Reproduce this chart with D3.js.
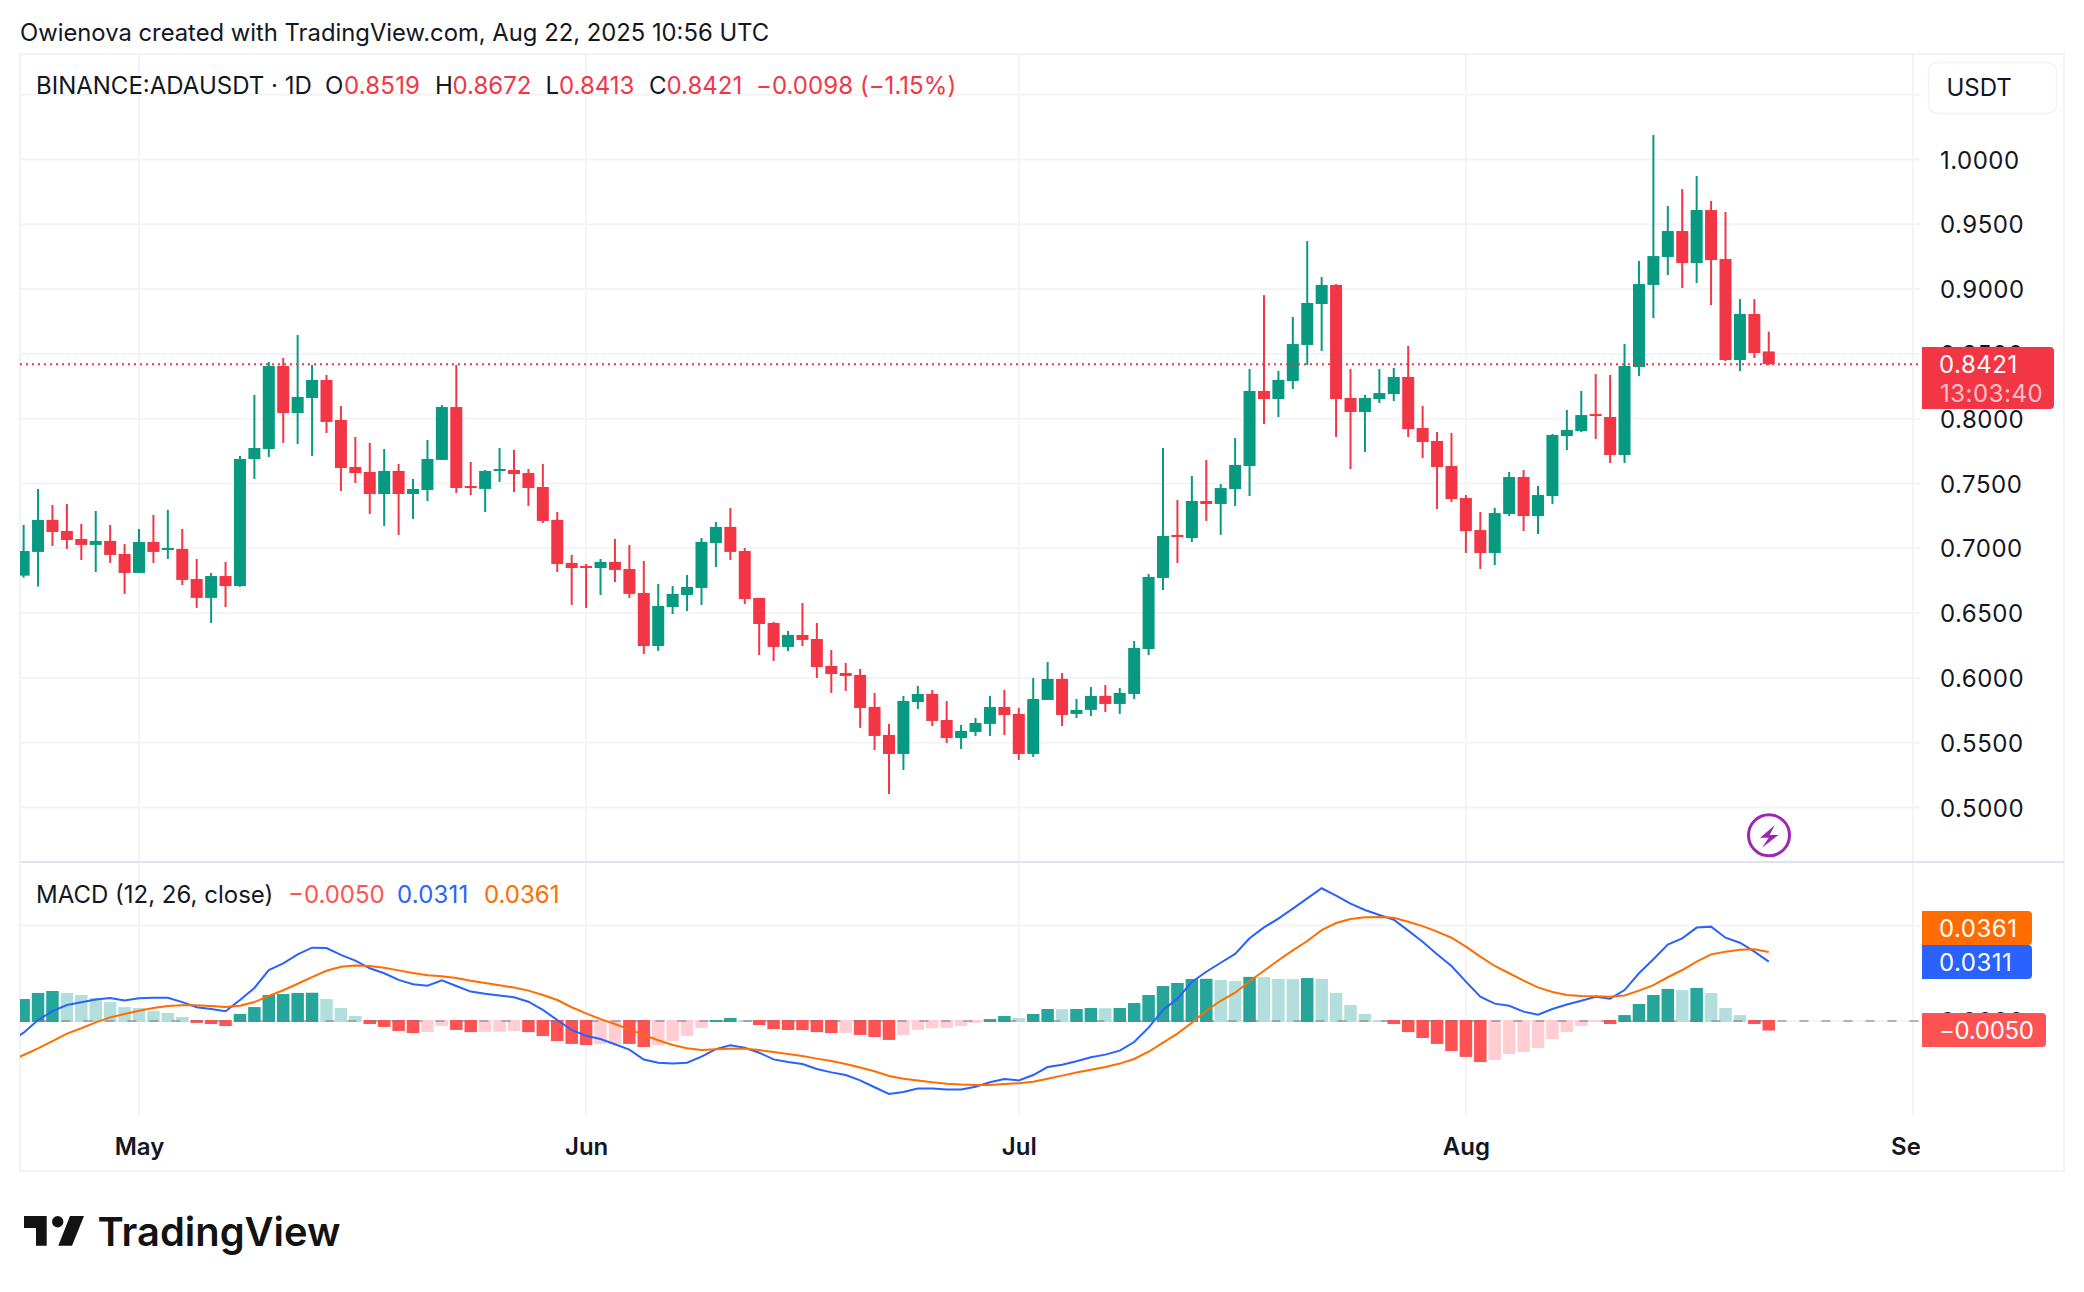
<!DOCTYPE html>
<html><head><meta charset="utf-8">
<script src="https://cdn.jsdelivr.net/npm/d3@7/dist/d3.min.js"></script>
<style>
html,body{margin:0;padding:0;background:#fff;overflow:hidden}
svg{display:block}
text{font-family:Inter,"Liberation Sans",sans-serif;fill:#131722}
</style></head><body>
<script>
const firstDay = "2025-04-22";
const opens = [.6650,.6789,.6972,.7219,.7134,.7072,.7026,.7057,.6956,
.6810,.7049,.6987,.6995,.6763,.6617,.6786,.6709,.7689,.7766,
.8407,.8044,.8160,.8299,.7990,.7628,.7589,.7419,.7597,.7419,
.7450,.7682,.8090,.7481,.7458,.7597,.7604,.7581,.7473,.7219,
.6887,.6864,.6848,.6895,.6840,.6655,.6246,.6547,.6640,.6694,
.7041,.7165,.6979,.6617,.6424,.6239,.6331,.6300,.6092,.6038,
.6023,.5776,.5560,.5413,.5814,.5876,.5675,.5536,.5583,.5645,
.5776,.5722,.5413,.5830,.5992,.5722,.5753,.5861,.5799,.5876,
.6223,.6771,.7103,.7079,.7365,.7342,.7457,.7635,.8214,.8152,
.8291,.8569,.8885,.9032,.8160,.8052,.8152,.8190,.8322,.7928,
.7828,.7635,.7388,.7141,.6964,.7265,.7550,.7249,.7403,.7866,
.7905,.8036,.8013,.7720,.8399,.9032,.9248,.9448,.9201,.9610,
.9232,.8453,.8808,.8519];
const highs = [.6880,.7180,.7458,.7334,.7342,.7188,.7288,.7180,.7033,
.7149,.7257,.7296,.7149,.6918,.6810,.6895,.7712,.8183,.8438,
.8469,.8646,.8415,.8337,.8098,.7859,.7813,.7766,.7651,.7535,
.7836,.8106,.8415,.7666,.7604,.7774,.7759,.7612,.7651,.7280,
.6949,.6879,.6918,.7072,.7026,.6902,.6725,.6709,.6794,.7080,
.7203,.7311,.7003,.6617,.6432,.6362,.6578,.6424,.6215,.6115,
.6069,.5884,.5645,.5861,.5938,.5907,.5822,.5637,.5691,.5861,
.5907,.5768,.5999,.6123,.6038,.5837,.5930,.5945,.5922,.6285,
.6802,.7774,.7373,.7558,.7681,.7496,.7851,.8383,.8954,.8368,
.8785,.9371,.9093,.9039,.8383,.8183,.8383,.8391,.8561,.8098,
.7897,.7890,.7411,.7280,.7311,.7589,.7604,.7481,.7882,.8067,
.8214,.8345,.8337,.8576,.9217,1.0189,.9641,.9772,.9873,.9680,
.9595,.8923,.8923,.8672];
const lows = [.6620,.6773,.6704,.7018,.6995,.6910,.6817,.6887,.6648,
.6810,.6887,.6918,.6717,.6540,.6424,.6547,.6702,.7535,.7705,
.7813,.7805,.7712,.7890,.7442,.7504,.7265,.7172,.7103,.7226,
.7365,.7682,.7427,.7411,.7280,.7512,.7435,.7327,.7195,.6817,
.6563,.6540,.6640,.6740,.6617,.6185,.6208,.6493,.6516,.6563,
.6856,.6910,.6570,.6177,.6131,.6208,.6246,.5999,.5884,.5899,
.5614,.5444,.5104,.5290,.5760,.5629,.5498,.5452,.5552,.5552,
.5560,.5367,.5390,.5830,.5629,.5691,.5706,.5737,.5722,.5837,
.6177,.6678,.6887,.7049,.7211,.7103,.7326,.7403,.7959,.8013,
.8229,.8414,.8522,.7859,.7612,.7743,.8121,.8136,.7859,.7697,
.7303,.7357,.6964,.6840,.6871,.7249,.7133,.7110,.7342,.7758,
.7897,.7843,.7658,.7658,.8329,.8777,.9109,.9008,.9047,.8877,
.8445,.8368,.8468,.8413];
const closes = [.6789,.6979,.7219,.7126,.7064,.7026,.7057,.6949,.6810,
.7049,.6972,.7003,.6756,.6617,.6786,.6709,.7689,.7774,.8407,
.8044,.8168,.8299,.7975,.7620,.7581,.7419,.7597,.7419,.7458,
.7689,.8090,.7465,.7465,.7597,.7612,.7573,.7465,.7211,.6879,
.6848,.6848,.6895,.6833,.6648,.6246,.6555,.6648,.6702,.7049,
.7165,.6972,.6609,.6416,.6239,.6331,.6293,.6084,.6030,.6015,
.5768,.5552,.5413,.5822,.5876,.5668,.5536,.5591,.5652,.5776,
.5714,.5413,.5837,.5992,.5714,.5753,.5861,.5799,.5884,.6231,
.6779,.7095,.7087,.7365,.7342,.7465,.7643,.8214,.8152,.8299,
.8576,.8893,.9032,.8152,.8052,.8160,.8198,.8322,.7920,.7820,
.7627,.7380,.7133,.6964,.7272,.7550,.7249,.7411,.7874,.7913,
.8028,.8021,.7720,.8407,.9039,.9255,.9448,.9201,.9610,.9224,
.8453,.8808,.8507,.8421];
const histogram = [.0098,.0115,.0147,.0157,.0147,.0136,.0120,.0099,.0073,
.0068,.0052,.0042,.0021,-.0010,-.0016,-.0026,.0037,.0073,.0136,
.0141,.0147,.0148,.0115,.0068,.0026,-.0016,-.0031,-.0052,-.0063,
-.0058,-.0026,-.0047,-.0058,-.0057,-.0056,-.0052,-.0058,-.0079,-.0105,
-.0120,-.0126,-.0120,-.0119,-.0120,-.0136,-.0126,-.0105,-.0079,-.0037,
.0005,.0016,.0005,-.0021,-.0042,-.0047,-.0048,-.0058,-.0063,-.0062,
-.0073,-.0084,-.0099,-.0073,-.0047,-.0038,-.0036,-.0026,-.0010,.0010,
.0026,.0016,.0037,.0063,.0062,.0063,.0068,.0067,.0068,.0094,
.0136,.0183,.0199,.0220,.0221,.0215,.0209,.0231,.0230,.0220,
.0219,.0225,.0220,.0147,.0084,.0037,.0005,-.0016,-.0058,-.0089,
-.0120,-.0157,-.0188,-.0215,-.0204,-.0173,-.0162,-.0141,-.0094,-.0058,
-.0026,-.0005,-.0016,.0031,.0089,.0136,.0168,.0162,.0173,.0147,
.0068,.0031,-.0016,-.0050];
const macdLine = [-.0113,-.0061,.0005,.0052,.0084,.0098,.0113,.0120,.0108,
.0119,.0122,.0122,.0099,.0072,.0063,.0051,.0110,.0173,.0267,
.0302,.0349,.0384,.0382,.0346,.0316,.0276,.0250,.0215,.0192,
.0185,.0213,.0183,.0154,.0143,.0134,.0124,.0101,.0058,.0005,
-.0047,-.0077,-.0094,-.0122,-.0150,-.0202,-.0218,-.0222,-.0218,-.0187,
-.0147,-.0127,-.0140,-.0166,-.0201,-.0215,-.0225,-.0251,-.0269,-.0283,
-.0311,-.0347,-.0382,-.0372,-.0354,-.0354,-.0359,-.0358,-.0344,-.0321,
-.0304,-.0311,-.0283,-.0241,-.0229,-.0211,-.0190,-.0176,-.0155,-.0110,
-.0035,.0058,.0117,.0204,.0258,.0305,.0351,.0433,.0490,.0536,
.0588,.0642,.0695,.0656,.0614,.0581,.0555,.0530,.0473,.0415,
.0349,.0288,.0206,.0127,.0091,.0080,.0049,.0033,.0063,.0086,
.0106,.0127,.0117,.0162,.0250,.0323,.0400,.0433,.0489,.0494,
.0436,.0410,.0363,.0311];
const signalLine = [-.0213,-.0178,-.0143,-.0105,-.0066,-.0038,-.0007,.0019,.0037,
.0054,.0068,.0079,.0082,.0082,.0079,.0073,.0080,.0099,.0131,
.0161,.0195,.0230,.0263,.0284,.0290,.0288,.0279,.0265,.0251,
.0239,.0234,.0225,.0211,.0199,.0187,.0175,.0159,.0136,.0110,
.0072,.0040,.0010,-.0016,-.0044,-.0073,-.0101,-.0126,-.0143,-.0152,
-.0148,-.0145,-.0145,-.0152,-.0162,-.0173,-.0183,-.0197,-.0209,-.0225,
-.0243,-.0263,-.0288,-.0302,-.0312,-.0321,-.0328,-.0333,-.0335,-.0335,
-.0330,-.0326,-.0318,-.0302,-.0286,-.0270,-.0255,-.0241,-.0223,-.0199,
-.0161,-.0113,-.0066,-.0009,.0054,.0106,.0148,.0208,.0263,.0318,
.0370,.0419,.0476,.0513,.0534,.0543,.0544,.0541,.0520,.0497,
.0468,.0436,.0389,.0337,.0288,.0250,.0211,.0176,.0152,.0136,
.0131,.0129,.0127,.0134,.0159,.0188,.0229,.0267,.0311,.0349,
.0363,.0373,.0375,.0361];
const priceGrid = [.5,.55,.6,.65,.7,.75,.8,.85,.9,.95,1,1.05];
const priceTicks = [.5,.55,.6,.65,.7,.75,.8,.85,.9,.95,1];
const macdGrid = [0,.05];
const monthTicks = ["2025-05-01","2025-06-01","2025-07-01","2025-08-01","2025-09-01"];
const monthLabels = ["May","Jun","Jul","Aug","Sep"];
const lastClose = .8421, lastHist = -.0050, lastMacd = .0311, lastSignal = .0361;

const GREEN="#089981", RED="#f23645", GRID="#f3f4f6", FRAME="#f2f3f6";
const parse = d3.utcParse("%Y-%m-%d");
const start = parse(firstDay);
const dates = opens.map((_,i)=>d3.utcDay.offset(start,i));
const monthDates = monthTicks.map(parse);

const x = d3.scaleUtc().domain([parse("2025-05-01"),parse("2025-09-01")]).range([139,1913]);
const y = d3.scaleLinear().domain([0.5,1]).range([807.5,159.5]);
const m = d3.scaleLinear().domain([0,.05]).range([1021,925.5]);

const svg = d3.select("body").append("svg").attr("width",2084).attr("height",1292).attr("viewBox","0 0 2084 1292");
const defs = svg.append("defs");
defs.append("clipPath").attr("id","pricePane").append("rect").attr("x",20).attr("y",54).attr("width",1900).attr("height",808);
defs.append("clipPath").attr("id","macdPane").append("rect").attr("x",20).attr("y",863).attr("width",1900).attr("height",253);
defs.append("clipPath").attr("id","timePane").append("rect").attr("x",20).attr("y",1116).attr("width",1900).attr("height",55);

// caption
svg.append("text").attr("x",20).attr("y",40.5).attr("font-size",23.8).text("Owienova created with TradingView.com, Aug 22, 2025 10:56 UTC");

// grid
const grid = svg.append("g");
grid.selectAll(".pg").data(priceGrid).join("line").attr("x1",20).attr("x2",1920).attr("y1",d=>y(d)).attr("y2",d=>y(d)).attr("stroke",GRID).attr("stroke-width",2);
grid.selectAll(".mg").data(macdGrid).join("line").attr("x1",20).attr("x2",1920).attr("y1",d=>m(d)).attr("y2",d=>m(d)).attr("stroke",GRID).attr("stroke-width",2);
grid.selectAll(".vg").data(monthDates).join("line").attr("x1",d=>x(d)).attr("x2",d=>x(d)).attr("y1",54).attr("y2",1116).attr("stroke",GRID).attr("stroke-width",2);

// frame and pane separator
svg.append("rect").attr("x",20).attr("y",54).attr("width",2044).attr("height",1117).attr("fill","none").attr("stroke",FRAME).attr("stroke-width",2);
svg.append("line").attr("x1",20).attr("x2",2064).attr("y1",862).attr("y2",862).attr("stroke","#e0e3eb").attr("stroke-width",2);

// candles
const candles = svg.append("g").attr("clip-path","url(#pricePane)");
const idx = d3.range(dates.length);
const cCol = i=>closes[i]>=opens[i]?GREEN:RED;
candles.selectAll(".wick").data(idx).join("line")
  .attr("x1",i=>x(dates[i])).attr("x2",i=>x(dates[i]))
  .attr("y1",i=>y(highs[i])).attr("y2",i=>y(lows[i]))
  .attr("stroke",cCol).attr("stroke-width",2);
candles.selectAll(".body").data(idx).join("rect")
  .attr("x",i=>x(dates[i])-6).attr("width",12)
  .attr("y",i=>y(Math.max(opens[i],closes[i])))
  .attr("height",i=>Math.max(2,Math.abs(y(opens[i])-y(closes[i]))))
  .attr("fill",cCol);
// last price dotted line
candles.append("line").attr("x1",20).attr("x2",1920).attr("y1",y(lastClose)).attr("y2",y(lastClose))
  .attr("stroke",RED).attr("stroke-width",2).attr("stroke-dasharray","2 4");

// MACD pane
const macd = svg.append("g").attr("clip-path","url(#macdPane)");
const hCol = i=>{
  const v=histogram[i], p=i?histogram[i-1]:-1;
  return v>=0?(p<v?"#26a69a":"#b2dfdb"):(p<v?"#ffcdd2":"#ff5252");
};
macd.selectAll(".bar").data(idx).join("rect")
  .attr("x",i=>x(dates[i])-6.25).attr("width",12.5)
  .attr("y",i=>Math.min(m(histogram[i]),m(0))-(histogram[i]<0?1:0))
  .attr("height",i=>Math.abs(m(histogram[i])-m(0))+1)
  .attr("fill",hCol);
macd.append("line").attr("x1",20).attr("x2",1920).attr("y1",m(0)).attr("y2",m(0))
  .attr("stroke","#787b86").attr("stroke-opacity",.55).attr("stroke-width",2).attr("stroke-dasharray","9 13").attr("stroke-dashoffset",2.6);
const ln = arr=>d3.line().x((_,i)=>x(dates[i])).y(d=>m(d))(arr);
macd.append("path").attr("d",ln(macdLine)).attr("fill","none").attr("stroke","#2962ff").attr("stroke-width",2);
macd.append("path").attr("d",ln(signalLine)).attr("fill","none").attr("stroke","#ff6d00").attr("stroke-width",2);

// axes
const fmt = d3.format(".4f");
const yAxis = svg.append("g").attr("transform","translate(1921,1)")
  .call(d3.axisRight(y).tickValues(priceTicks).tickSize(0).tickPadding(19).tickFormat(fmt));
const mAxis = svg.append("g").attr("transform","translate(1921,1)")
  .call(d3.axisRight(m).tickValues(macdGrid).tickSize(0).tickPadding(19).tickFormat(fmt));
const xAxis = svg.append("g").attr("clip-path","url(#timePane)").append("g").attr("transform","translate(0,1116)")
  .call(d3.axisBottom(x).tickValues(monthDates).tickSize(0).tickPadding(22).tickFormat((d,i)=>monthLabels[i]));
[yAxis,mAxis,xAxis].forEach(a=>{a.select(".domain").remove();a.attr("font-family",null).attr("font-size",null)});
yAxis.selectAll("text").attr("font-size",24).attr("letter-spacing",.5).style("fill","#131722");
mAxis.selectAll("text").attr("font-size",24).attr("letter-spacing",.5).style("fill","#131722");
xAxis.selectAll("text").attr("font-size",24).attr("font-weight",600).style("fill","#131722");

// legends
const lg = svg.append("g");
function t(xp,yp,s,c,ls){return lg.append("text").attr("x",xp).attr("y",yp).attr("font-size",24).style("fill",c||"#131722").attr("letter-spacing",ls||0).text(s)}
t(36,94,"BINANCE:ADAUSDT · 1D");
t(325,94,"O");t(344,94,fmt(opens[opens.length-1]),RED,.2);
t(435,94,"H");t(452.5,94,fmt(highs[highs.length-1]),RED);
t(545.5,94,"L");t(559,94,fmt(lows[lows.length-1]),RED);
t(649,94,"C");t(666.5,94,fmt(lastClose),RED);
t(756,94,"−0.0098 (−1.15%)",RED,.05);
t(36,903,"MACD (12, 26, close)");
t(288,903,"−"+fmt(-lastHist),"#ff5252");
t(397,903,fmt(lastMacd),"#2962ff",.2);
t(484,903,fmt(lastSignal),"#ff6d00");

// USDT button
svg.append("rect").attr("x",1928.5).attr("y",62.5).attr("width",128).attr("height",51).attr("rx",9).attr("fill","#fff").attr("stroke","#f0f3fa").attr("stroke-width",1.5);
svg.append("text").attr("x",1946.5).attr("y",96).attr("font-size",24).text("USDT");

// value tags
function tag(x0,x1,y0,y1,col){
  const r=4;
  svg.append("path").attr("fill",col).attr("d",`M${x0} ${y0}H${x1-r}Q${x1} ${y0} ${x1} ${y0+r}V${y1-r}Q${x1} ${y1} ${x1-r} ${y1}H${x0}Z`);
}
function tagText(xp,yp,s,op,ls){svg.append("text").attr("x",xp).attr("y",yp).attr("font-size",24).attr("letter-spacing",ls===undefined?.5:ls).style("fill","#fff").style("fill-opacity",op||1).text(s)}
tag(1922,2054,347,409,RED);
tagText(1939,372.5,fmt(lastClose));
tagText(1940,401.5,"13:03:40",.7);
tag(1922,2032,911,945,"#ff6d00");
tagText(1939,937,fmt(lastSignal));
tag(1922,2032,945,979,"#2962ff");
tagText(1939,971,fmt(lastMacd));
tag(1922,2046,1013,1047,"#ff5252");
tagText(1939,1039,"−"+fmt(-lastHist),1,-.3);

// bolt badge
const bolt = svg.append("g").attr("transform","translate(1769,835.3)");
bolt.append("circle").attr("r",20.5).attr("fill","none").attr("stroke","#9c27b0").attr("stroke-width",3);
bolt.append("path").attr("d","M5.8 -10L-9 2.5H-0.3L-7 12.5L9.4 -0.2H0.6Z").attr("fill","#9c27b0");

// logo
const logo = svg.append("g").attr("fill","#131313");
logo.append("path").attr("d","M24 1216H46.7V1245.7H36V1228H24Z");
logo.append("circle").attr("cx",57.7).attr("cy",1221.7).attr("r",5.7);
logo.append("path").attr("d","M70 1216H84L72 1245.7H58.3Z");
svg.append("text").attr("x",97.5).attr("y",1245.7).attr("font-size",40).attr("font-weight",600).attr("textLength",243).attr("lengthAdjust","spacingAndGlyphs").style("fill","#131313").text("TradingView");
</script>
</body></html>
